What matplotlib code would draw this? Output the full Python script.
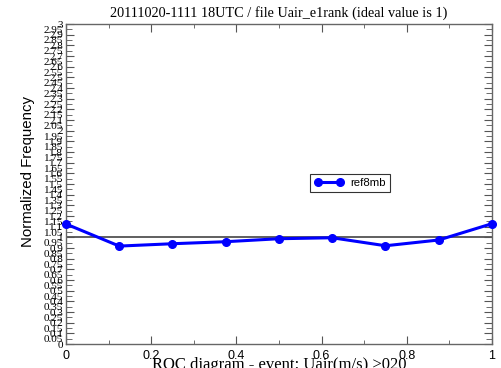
import matplotlib.pyplot as plt
import numpy as np
from matplotlib.ticker import MultipleLocator, FormatStrFormatter

# rank histogram values (normalized frequency per rank bin)
rank_pos = [0, 0.125, 0.25, 0.375, 0.5, 0.625, 0.75, 0.875, 1.0]
norm_freq = [1.125, 0.918, 0.940, 0.959, 0.987, 0.996, 0.921, 0.975, 1.128]
series_name = 'ref8mb'
ideal_value = 1.0

title = '20111020-1111 18UTC / file Uair_e1rank (ideal value is 1)'
xlabel = 'ROC diagram - event: Uair(m/s) >020'
ylabel = 'Normalized Frequency'

fig = plt.figure(figsize=(5.02, 3.68), dpi=100)
ax = fig.add_axes([66 / 502, 1 - 344 / 368, 426 / 502, 320 / 368])

ax.axhline(ideal_value, color='#444444', linewidth=1.2, zorder=1)
ax.plot(rank_pos, norm_freq, color='#0000ff', linewidth=2.2, marker='o',
        markersize=5.5, label=series_name, zorder=3, clip_on=False)

ax.set_xlim(0, 1)
ax.set_ylim(0, 3)

ax.xaxis.set_major_locator(MultipleLocator(0.2))
ax.xaxis.set_minor_locator(MultipleLocator(0.1))
ax.xaxis.set_major_formatter(FormatStrFormatter('%g'))
ax.yaxis.set_major_locator(MultipleLocator(0.1))
ax.yaxis.set_minor_locator(MultipleLocator(0.05))
ax.yaxis.set_major_formatter(FormatStrFormatter('%g'))
ax.yaxis.set_minor_formatter(FormatStrFormatter('%g'))

ax.tick_params(axis='both', which='both', direction='in', top=True, right=True,
               color='#555555')
ax.tick_params(axis='x', which='major', length=6, labelsize=9, pad=4)
ax.tick_params(axis='x', which='minor', length=3)
ax.tick_params(axis='y', which='major', length=6, pad=2)
ax.tick_params(axis='y', which='minor', length=4, pad=2)
for lbl in ax.get_xticklabels():
    lbl.set_fontfamily('Liberation Sans')
for lbl in ax.get_yticklabels(which='both'):
    lbl.set_fontfamily('Liberation Serif')
    lbl.set_fontsize(8)

for sp in ax.spines.values():
    sp.set_color('#666666')
    sp.set_linewidth(1)

ax.set_title(title, fontfamily='Liberation Serif', fontsize=10.3, pad=5)
ax.set_xlabel(xlabel, fontfamily='Liberation Serif', fontsize=12, labelpad=-3)
ax.set_ylabel(ylabel, fontfamily='Liberation Sans', fontsize=10.8)
ax.yaxis.set_label_coords(-0.073, 0.54)

leg = ax.legend(loc='lower left', bbox_to_anchor=(0.573, 0.475),
                prop={'family': 'Liberation Sans', 'size': 8.2},
                frameon=True, fancybox=False, borderpad=0.35, handlelength=2.6,
                handletextpad=0.6, numpoints=2, borderaxespad=0)
leg.get_frame().set_edgecolor('black')
leg.get_frame().set_linewidth(0.8)

fig.savefig('out.png', dpi=100)
